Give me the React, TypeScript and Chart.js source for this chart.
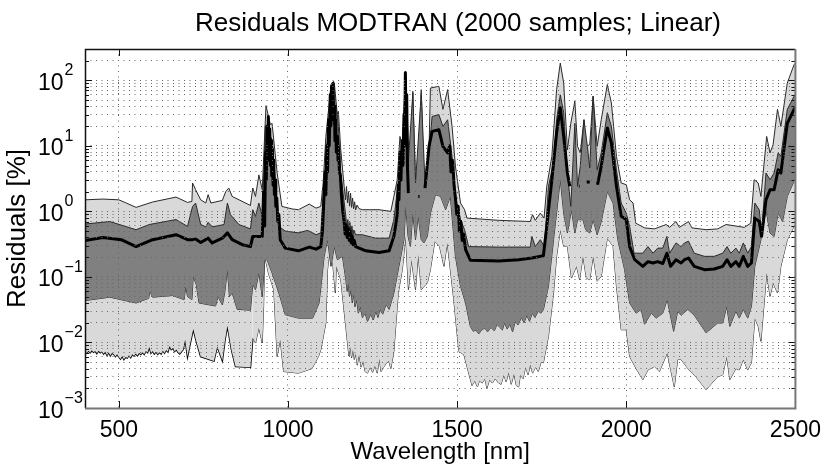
import React, { useEffect, useRef } from 'react';
import { Chart, registerables } from 'chart.js';

Chart.register(...registerables);

const chartTitle = 'Residuals MODTRAN (2000 samples; Linear)';
const xTickValues = [500, 1000, 1500, 2000, 2500];
const yTickValues = [
  0.001, 0.002, 0.003, 0.004, 0.005, 0.006, 0.007, 0.008, 0.009,
  0.01, 0.02, 0.03, 0.04, 0.05, 0.06, 0.07, 0.08, 0.09,
  0.1, 0.2, 0.3, 0.4, 0.5, 0.6, 0.7, 0.8, 0.9,
  1, 2, 3, 4, 5, 6, 7, 8, 9,
  10, 20, 30, 40, 50, 60, 70, 80, 90,
  100, 200,
];
const yExponents = [-3, -2, -1, 0, 1, 2];

// outer envelope, upper edge
const topNm = [400, 453, 500, 522, 551, 600, 669, 703, 716, 718, 727, 742, 757, 764, 772, 806, 816, 825, 835, 889, 896, 904, 914, 924, 935, 948, 953, 968, 982, 1012, 1031, 1063, 1083, 1097, 1104, 1112, 1122, 1127, 1135, 1141, 1149, 1156, 1166, 1170, 1173, 1176, 1179, 1182, 1185, 1188, 1191, 1194, 1197, 1200, 1204, 1210, 1220, 1240, 1269, 1304, 1313, 1323, 1331, 1338, 1348, 1355, 1362, 1369, 1377, 1385, 1394, 1402, 1407, 1417, 1421, 1446, 1458, 1472, 1485, 1495, 1510, 1522, 1529, 1623, 1716, 1723, 1731, 1746, 1757, 1765, 1780, 1794, 1805, 1815, 1826, 1836, 1848, 1856, 1864, 1875, 1880, 1892, 1902, 1914, 1926, 1944, 1956, 1971, 1985, 2000, 2010, 2020, 2028, 2054, 2083, 2118, 2128, 2147, 2157, 2184, 2194, 2236, 2270, 2295, 2349, 2368, 2378, 2390, 2398, 2415, 2425, 2434, 2447, 2457, 2476, 2496, 2500];
const topVals = [1.5, 1.54, 1.5, 1.34, 1.15, 1.39, 1.65, 1.37, 1.42, 2.71, 2.14, 1.5, 1.34, 1.8, 1.34, 1.47, 2.0, 2.27, 1.69, 1.23, 2.27, 1.69, 3.6, 2.14, 41, 21, 22, 3.85, 1.19, 1.09, 1.06, 1.29, 1.12, 1.19, 2.71, 13.9, 45, 86, 96, 28, 33.6, 8.7, 2.41, 1.5, 2.4, 1.35, 2, 1.2, 1.9, 1.15, 1.6, 1.1, 1.4, 1.05, 1.25, 1.1, 1.06, 1.06, 1.06, 1.0, 1.69, 3.04, 13.9, 9.8, 137, 12.4, 4.3, 68, 3.04, 4.3, 72, 3.04, 2.71, 8.7, 76, 81, 36, 72, 19.8, 4.9, 1.34, 1.06, 0.79, 0.73, 0.7, 0.89, 0.73, 0.94, 0.79, 2.41, 6.9, 72, 183, 91, 8.7, 22, 48, 9.8, 7.8, 25, 9.8, 10.4, 57, 9.8, 25, 86, 45, 6.9, 2.71, 2.55, 1.5, 1.34, 0.66, 0.56, 0.54, 0.63, 0.57, 0.7, 0.57, 0.7, 0.56, 0.525, 0.54, 0.63, 0.57, 0.66, 3.04, 2.71, 1.69, 13.9, 7.8, 10.4, 36, 19.8, 91, 173, 183];

// inner band, upper edge
const upperNm = [400, 473, 551, 590, 669, 703, 718, 727, 742, 757, 764, 776, 811, 821, 830, 855, 889, 896, 904, 914, 924, 933, 953, 973, 992, 1031, 1056, 1063, 1083, 1097, 1112, 1127, 1137, 1149, 1156, 1171, 1174, 1177, 1180, 1183, 1186, 1189, 1192, 1195, 1200, 1220, 1259, 1299, 1313, 1328, 1338, 1348, 1355, 1369, 1377, 1394, 1405, 1417, 1426, 1446, 1458, 1472, 1485, 1495, 1510, 1522, 1534, 1623, 1716, 1721, 1731, 1746, 1758, 1770, 1785, 1794, 1805, 1815, 1826, 1836, 1848, 1856, 1864, 1875, 1885, 1892, 1902, 1914, 1926, 1944, 1956, 1971, 1985, 2000, 2010, 2023, 2049, 2064, 2079, 2093, 2108, 2120, 2128, 2147, 2162, 2172, 2184, 2201, 2231, 2260, 2285, 2298, 2309, 2324, 2334, 2346, 2359, 2370, 2380, 2393, 2400, 2413, 2425, 2437, 2449, 2457, 2476, 2496, 2500];
const upperVals = [0.64, 0.7, 0.525, 0.63, 0.75, 0.59, 1.19, 1.34, 0.63, 0.58, 0.68, 0.58, 0.63, 1.34, 0.89, 0.63, 0.54, 1.06, 0.84, 1.34, 0.84, 19.8, 12.4, 0.59, 0.5, 0.47, 0.51, 0.5, 0.44, 0.47, 6.9, 40, 91, 19.8, 3.85, 0.84, 0.55, 0.75, 0.5, 0.68, 0.48, 0.6, 0.44, 0.52, 0.44, 0.44, 0.39, 0.39, 0.75, 3.42, 8.7, 129, 4.9, 64, 2.71, 64, 2.71, 7.8, 28, 30, 19.8, 25, 6.9, 1.69, 0.75, 0.525, 0.29, 0.285, 0.285, 0.415, 0.29, 0.37, 0.29, 2.41, 5.5, 25, 60, 32, 3.85, 1.19, 22, 2.41, 4.9, 25, 9.8, 4.6, 57, 4.3, 7.8, 32, 19.8, 4.3, 1.34, 0.94, 0.59, 0.23, 0.23, 0.29, 0.23, 0.275, 0.275, 0.415, 0.23, 0.33, 0.29, 0.33, 0.35, 0.23, 0.206, 0.206, 0.23, 0.29, 0.23, 0.275, 0.23, 0.33, 0.23, 0.29, 1.34, 1.06, 0.47, 3.85, 3.04, 3.85, 7.8, 6.9, 36, 57, 60];

// median, broken where the values drop out
const medianNm = [400, 453, 507, 551, 600, 669, 703, 718, 727, 742, 764, 776, 806, 821, 835, 865, 889, 896, 914, 924, 928, 931, 934, 936, 938, 940, 942, 944, 946, 948, 950, 952, 954, 956, 958, 960, 962, 964, 967, 970, 973, 977, 992, 1031, 1063, 1083, 1097, 1102, 1106, 1110, 1112, 1115, 1117, 1120, 1122, 1125, 1127, 1129, 1131, 1133, 1135, 1137, 1139, 1141, 1143, 1146, 1148, 1150, 1152, 1155, 1158, 1162, 1166, 1169, 1172, 1175, 1178, 1181, 1184, 1187, 1190, 1193, 1196, 1200, 1230, 1269, 1299, 1313, 1318, 1323, 1326, 1328, 1331, 1334, 1337, 1340, 1343, 1345, 1347, 1349, 1351, 1353, 1356, 1362, 1376, 1378, 1380, 1385, 1389, 1394, 1405, 1417, 1426, 1446, 1458, 1472, 1478, 1482, 1487, 1491, 1495, 1499, 1503, 1507, 1511, 1515, 1519, 1525, 1539, 1623, 1682, 1721, 1755, 1765, 1780, 1794, 1805, 1815, 1826, 1833, 1838, 1860, 1862, 1866, 1883, 1892, 1900, 1915, 1926, 1944, 1956, 1971, 1985, 2000, 2010, 2025, 2049, 2064, 2079, 2093, 2108, 2120, 2131, 2147, 2162, 2172, 2184, 2201, 2231, 2260, 2285, 2298, 2309, 2324, 2334, 2346, 2359, 2370, 2380, 2393, 2400, 2413, 2425, 2437, 2449, 2457, 2476, 2496, 2500];
const medianVals = [0.36, 0.4, 0.37, 0.29, 0.37, 0.44, 0.37, 0.37, 0.38, 0.335, 0.39, 0.33, 0.39, 0.47, 0.37, 0.31, 0.29, 0.415, 0.415, 0.415, 2, 0.6, 8, 3, 20, 6, 28, 8, 18, 5, 12, 3.5, 9, 2.5, 6, 1.8, 3, 1.2, 1.6, 0.7, 0.9, 0.37, 0.275, 0.25, 0.285, 0.265, 0.29, 0.5, 1.5, 4, 1.8, 10, 4, 25, 10, 60, 20, 80, 25, 90, 30, 40, 12, 25, 8, 14, 6, 9, 4, 3.5, 1.8, 1, 0.7, 0.45, 0.62, 0.4, 0.55, 0.36, 0.5, 0.33, 0.42, 0.31, 0.36, 0.29, 0.25, 0.235, 0.25, 0.415, 0.6, 0.9, 2.5, 1.5, 8, 3, 12, 5, 30, 10, 130, 20, 60, 5, 1.9, null, 1.8, 1.8, null, 1.69, 1.69, null, 2.27, 9.8, 16.6, 17.6, 9.8, 7.8, 10, 4, 6, 2.5, 1.6, 0.9, 1.2, 0.5, 0.7, 0.36, 0.45, 0.26, 0.18, 0.175, 0.183, 0.194, 0.21, 0.59, 3.04, 15.7, 38, 13.9, 3.85, 2.41, null, 2.41, 2.41, null, 2.8, 2.8, null, 2.55, 4.9, 18.7, 11, 2.41, 0.84, 0.75, 0.29, 0.183, 0.145, 0.171, 0.163, 0.171, 0.16, 0.23, 0.145, 0.183, 0.163, 0.183, 0.194, 0.145, 0.129, 0.132, 0.145, 0.183, 0.145, 0.171, 0.145, 0.206, 0.145, 0.163, 0.79, 0.7, 0.415, 1.5, 2.14, 2.14, 4.3, 3.85, 22, 36, 38];

// inner band, lower edge
const lowerNm = [400, 473, 551, 588, 592, 600, 659, 693, 698, 703, 716, 720, 729, 737, 786, 793, 806, 813, 821, 827, 835, 850, 889, 896, 904, 914, 924, 931, 938, 953, 973, 992, 1031, 1073, 1092, 1107, 1117, 1127, 1137, 1146, 1161, 1171, 1175, 1178, 1182, 1186, 1190, 1194, 1198, 1203, 1208, 1214, 1220, 1228, 1235, 1245, 1252, 1260, 1266, 1272, 1280, 1290, 1299, 1313, 1328, 1343, 1348, 1355, 1362, 1369, 1377, 1385, 1394, 1402, 1412, 1421, 1436, 1451, 1466, 1480, 1495, 1510, 1525, 1539, 1548, 1556, 1564, 1572, 1582, 1590, 1600, 1610, 1618, 1626, 1634, 1640, 1648, 1656, 1664, 1672, 1680, 1690, 1698, 1706, 1714, 1722, 1730, 1740, 1748, 1755, 1770, 1785, 1794, 1805, 1815, 1826, 1838, 1848, 1856, 1872, 1880, 1892, 1902, 1914, 1926, 1944, 1961, 1975, 1995, 2010, 2029, 2044, 2054, 2074, 2088, 2108, 2121, 2140, 2152, 2162, 2182, 2201, 2236, 2270, 2285, 2297, 2306, 2324, 2334, 2346, 2359, 2370, 2380, 2398, 2413, 2425, 2437, 2449, 2462, 2476, 2496, 2500];
const lowerVals = [0.0435, 0.049, 0.04, 0.047, 0.06, 0.049, 0.052, 0.045, 0.072, 0.05, 0.045, 0.102, 0.076, 0.04, 0.036, 0.05, 0.0375, 0.057, 0.129, 0.05, 0.057, 0.032, 0.031, 0.076, 0.064, 0.115, 0.05, 0.183, 0.183, 0.115, 0.057, 0.0265, 0.0235, 0.0235, 0.04, 0.206, 0.37, 0.145, 0.29, 0.183, 0.206, 0.091, 0.06, 0.08, 0.05, 0.065, 0.04, 0.055, 0.035, 0.045, 0.028, 0.035, 0.024, 0.028, 0.021, 0.027, 0.022, 0.03, 0.024, 0.032, 0.027, 0.038, 0.032, 0.057, 0.145, 0.37, 1.19, 0.415, 0.292, 0.94, 0.37, 0.84, 0.37, 0.33, 0.415, 0.94, 1.8, 1.69, 1.06, 1.69, 0.206, 0.072, 0.04, 0.0176, 0.0148, 0.0155, 0.0135, 0.0155, 0.0165, 0.0145, 0.017, 0.015, 0.019, 0.017, 0.0155, 0.02, 0.016, 0.019, 0.0145, 0.021, 0.0185, 0.024, 0.02, 0.026, 0.021, 0.028, 0.024, 0.03, 0.028, 0.0316, 0.0718, 0.37, 0.943, 3.04, 0.943, 0.467, 1.06, 0.467, 0.746, 0.746, 0.525, 0.467, 0.746, 0.44, 0.7, 2.0, 1.34, 0.369, 0.129, 0.04, 0.028, 0.032, 0.019, 0.028, 0.0235, 0.028, 0.045, 0.0148, 0.03, 0.026, 0.032, 0.026, 0.014, 0.0198, 0.0198, 0.0355, 0.0176, 0.03, 0.0235, 0.032, 0.0235, 0.0355, 0.145, 0.369, 1.06, 0.467, 0.415, 0.943, 0.7, 1.69, 2.9, 3.04];

// outer envelope, lower edge
const bottomNm = [400, 405, 410, 415, 420, 425, 430, 435, 440, 445, 450, 455, 460, 465, 470, 475, 480, 485, 490, 495, 500, 505, 510, 515, 520, 525, 530, 535, 540, 545, 550, 555, 560, 565, 570, 575, 580, 585, 590, 595, 600, 605, 610, 615, 620, 625, 630, 635, 640, 645, 650, 655, 660, 665, 670, 675, 680, 685, 690, 696, 703, 720, 729, 742, 781, 791, 806, 814, 821, 833, 845, 889, 896, 904, 914, 924, 928, 931, 943, 958, 968, 977, 987, 1031, 1071, 1090, 1097, 1112, 1117, 1124, 1133, 1140, 1143, 1156, 1176, 1180, 1184, 1188, 1192, 1196, 1200, 1205, 1210, 1216, 1222, 1228, 1235, 1243, 1250, 1257, 1264, 1270, 1275, 1283, 1290, 1298, 1304, 1313, 1326, 1338, 1348, 1356, 1365, 1377, 1385, 1394, 1412, 1421, 1434, 1448, 1461, 1471, 1490, 1505, 1520, 1544, 1552, 1560, 1566, 1574, 1582, 1588, 1596, 1604, 1612, 1623, 1630, 1638, 1645, 1652, 1660, 1668, 1675, 1682, 1687, 1695, 1702, 1710, 1716, 1723, 1732, 1740, 1748, 1755, 1770, 1785, 1794, 1805, 1815, 1826, 1838, 1853, 1862, 1872, 1882, 1892, 1902, 1914, 1926, 1944, 1961, 1971, 1985, 2000, 2010, 2029, 2049, 2064, 2083, 2098, 2121, 2142, 2152, 2162, 2182, 2206, 2236, 2270, 2285, 2297, 2306, 2324, 2334, 2346, 2359, 2370, 2380, 2390, 2398, 2415, 2425, 2434, 2447, 2457, 2476, 2496, 2500];
const bottomVals = [0.0073, 0.0069, 0.0075, 0.007, 0.0076, 0.0071, 0.0074, 0.0068, 0.0075, 0.007, 0.0073, 0.0067, 0.0072, 0.0064, 0.007, 0.0063, 0.0069, 0.0066, 0.0061, 0.0066, 0.006, 0.0056, 0.0062, 0.0055, 0.006, 0.0058, 0.0064, 0.0059, 0.0066, 0.0062, 0.0068, 0.0063, 0.0069, 0.0066, 0.0071, 0.0066, 0.0074, 0.007, 0.0085, 0.0069, 0.0074, 0.0067, 0.0072, 0.0066, 0.0071, 0.0067, 0.0075, 0.0069, 0.0077, 0.0072, 0.0088, 0.0078, 0.0082, 0.0073, 0.0078, 0.0071, 0.0067, 0.0072, 0.0078, 0.011, 0.0061, 0.016, 0.0104, 0.0061, 0.0052, 0.0087, 0.0053, 0.011, 0.018, 0.0077, 0.0043, 0.0042, 0.0117, 0.0098, 0.0166, 0.0098, 0.0355, 0.206, 0.11, 0.064, 0.0061, 0.011, 0.0036, 0.0034, 0.004, 0.0061, 0.0077, 0.0198, 0.129, 0.28, 0.145, 0.057, 0.145, 0.091, 0.0098, 0.0062, 0.0085, 0.0058, 0.0078, 0.0055, 0.0068, 0.0045, 0.0065, 0.0042, 0.0052, 0.0036, 0.0034, 0.0042, 0.0035, 0.0044, 0.0034, 0.0056, 0.0036, 0.0042, 0.0048, 0.0052, 0.004, 0.0073, 0.057, 0.129, 0.415, 0.064, 0.183, 0.064, 0.218, 0.064, 0.081, 0.129, 0.35, 0.292, 0.145, 0.328, 0.045, 0.0073, 0.0065, 0.0022, 0.0026, 0.0021, 0.0026, 0.0024, 0.0028, 0.002, 0.0027, 0.0024, 0.0028, 0.0024, 0.0023, 0.0032, 0.0025, 0.0035, 0.0023, 0.0033, 0.0022, 0.0021, 0.0032, 0.0028, 0.0042, 0.0032, 0.0046, 0.0034, 0.0042, 0.0036, 0.005, 0.0049, 0.0124, 0.0568, 0.206, 0.525, 0.292, 0.292, 0.096, 0.145, 0.0907, 0.206, 0.096, 0.0907, 0.206, 0.086, 0.102, 0.39, 0.292, 0.0718, 0.0156, 0.0156, 0.0061, 0.004, 0.0027, 0.0038, 0.0043, 0.0036, 0.0069, 0.0021, 0.0055, 0.0055, 0.004, 0.003, 0.0019, 0.003, 0.0032, 0.0061, 0.0027, 0.004, 0.0038, 0.0055, 0.0038, 0.0049, 0.0235, 0.0176, 0.0104, 0.1146, 0.0505, 0.0807, 0.0568, 0.145, 0.369, 0.59, 0.6];

const toPoints = (nm: number[], vals: (number | null)[]) =>
  nm.map((x, i) => ({ x, y: vals[i] }));

// title, superscript tick labels, inward ticks and the axes box
const axesBox = {
  id: 'axesBox',
  afterDraw(chart: any) {
    const { ctx, chartArea: a, scales } = chart;
    ctx.save();

    ctx.fillStyle = '#000';
    ctx.textBaseline = 'alphabetic';
    ctx.textAlign = 'center';
    ctx.font = '26px "Liberation Sans"';
    ctx.fillText(chartTitle, 458, 31);

    // y tick labels
    ctx.textAlign = 'left';
    yExponents.forEach((e) => {
      const y = scales.y.getPixelForValue(Math.pow(10, e));
      ctx.font = '23px "Liberation Sans"';
      ctx.fillText('10', 38, y + 9.5);
      const w = ctx.measureText('10').width;
      ctx.font = '16px "Liberation Sans"';
      ctx.fillText(String(e).replace('-', '\u2212'), 38 + w + 1, y - 5);
    });

    ctx.strokeStyle = '#111';
    ctx.lineWidth = 1;
    ctx.beginPath();
    yTickValues.forEach((v) => {
      const y = Math.round(scales.y.getPixelForValue(v)) + 0.5;
      const len = yExponents.some((e) => Math.abs(Math.pow(10, e) - v) < v * 1e-6) ? 7 : 4;
      ctx.moveTo(a.left, y);
      ctx.lineTo(a.left + len, y);
      ctx.moveTo(a.right, y);
      ctx.lineTo(a.right - len, y);
    });
    xTickValues.forEach((v) => {
      const x = Math.round(scales.x.getPixelForValue(v)) + 0.5;
      ctx.moveTo(x, a.top);
      ctx.lineTo(x, a.top + 7);
      ctx.moveTo(x, a.bottom);
      ctx.lineTo(x, a.bottom - 7);
    });
    ctx.stroke();

    ctx.strokeStyle = '#111';
    ctx.lineWidth = 1.5;
    ctx.beginPath();
    ctx.moveTo(a.left + 0.5, a.bottom);
    ctx.lineTo(a.left + 0.5, a.top + 0.5);
    ctx.lineTo(a.right, a.top + 0.5);
    ctx.stroke();
    ctx.strokeStyle = '#777';
    ctx.lineWidth = 2;
    ctx.beginPath();
    ctx.moveTo(a.left, a.bottom + 0.5);
    ctx.lineTo(a.right, a.bottom + 0.5);
    ctx.lineTo(a.right, a.top);
    ctx.stroke();
    ctx.restore();
  },
};

export default function App() {
  const chartRef = useRef<HTMLCanvasElement>(null);

  useEffect(() => {
    const thin = { pointRadius: 0, tension: 0, borderWidth: 1, borderColor: '#2a2a2a' };
    const chart = new Chart(chartRef.current!, {
      type: 'line',
      data: {
        datasets: [
          {
            label: 'median',
            data: toPoints(medianNm, medianVals),
            pointRadius: 0,
            tension: 0,
            borderWidth: 3,
            borderColor: '#000',
            borderJoinStyle: 'round',
            fill: false,
            spanGaps: false,
          },
          {
            label: 'upper',
            data: toPoints(upperNm, upperVals),
            ...thin,
            backgroundColor: '#808080',
            fill: 2,
          },
          { label: 'lower', data: toPoints(lowerNm, lowerVals), ...thin, fill: false },
          {
            label: 'top',
            data: toPoints(topNm, topVals),
            ...thin,
            backgroundColor: '#d9d9d9',
            fill: 4,
          },
          {
            label: 'bottom',
            data: toPoints(bottomNm, bottomVals),
            ...thin,
            fill: false,
            // the noisy blue end reads as a heavier black line
            segment: {
              borderWidth: (ctx: any) => (ctx.p0.parsed.x < 890 ? 1.6 : 1),
              borderColor: (ctx: any) => (ctx.p0.parsed.x < 890 ? '#000' : '#2a2a2a'),
            },
          },
        ] as any,
      },
      options: {
        animation: false,
        responsive: false,
        devicePixelRatio: 1,
        layout: { padding: { top: 49, right: 32 } },
        plugins: {
          legend: { display: false },
          tooltip: { enabled: false },
          title: { display: false },
        },
        scales: {
          x: {
            type: 'linear',
            min: 400,
            max: 2500,
            afterBuildTicks: (s: any) => {
              s.ticks = xTickValues.map((value) => ({ value }));
            },
            afterFit: (s: any) => {
              s.height = 59;
            },
            ticks: {
              color: '#000',
              maxRotation: 0,
              autoSkip: false,
              padding: 9,
              font: { family: '"Liberation Sans"', size: 23 },
              callback: (v: any) => String(v),
            },
            grid: { z: 1, color: '#666', lineWidth: 1, drawTicks: false },
            border: { display: false, dash: [1, 4.5] },
            title: {
              display: true,
              text: 'Wavelength [nm]',
              color: '#000',
              font: { family: '"Liberation Sans"', size: 24 },
              padding: { top: 0, bottom: 0 },
            },
          },
          y: {
            type: 'logarithmic',
            min: 0.001,
            max: 300,
            afterBuildTicks: (s: any) => {
              s.ticks = yTickValues.map((value) => ({ value }));
            },
            afterFit: (s: any) => {
              s.width = 85;
            },
            ticks: { callback: () => '', autoSkip: false, padding: 0 },
            grid: { z: 1, color: '#666', lineWidth: 1, drawTicks: false },
            border: { display: false, dash: [1, 4.5] },
            title: {
              display: true,
              text: 'Residuals [%]',
              color: '#000',
              font: { family: '"Liberation Sans"', size: 26 },
              padding: { top: 2, bottom: 0 },
            },
          },
        },
      } as any,
      plugins: [axesBox],
    });

    return () => chart.destroy();
  }, []);

  return (
    <canvas
      ref={chartRef}
      width={830}
      height={467}
      style={{ position: 'fixed', left: 0, top: 0, width: 830, height: 467, background: '#fff' }}
    />
  );
}
